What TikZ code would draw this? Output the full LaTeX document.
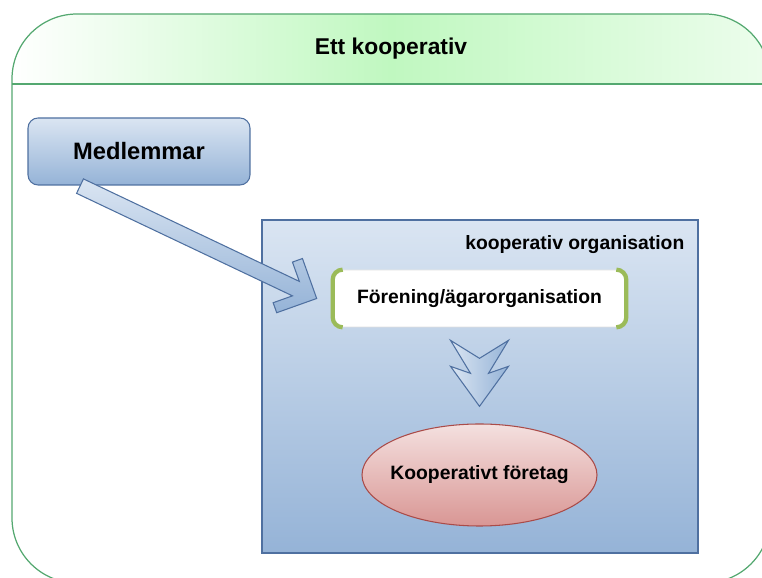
\documentclass[tikz,border=0pt]{standalone}
\usepackage{fontspec}
\setmainfont{Liberation Sans}
\usetikzlibrary{positioning, calc, shapes.geometric}
\definecolor{ramgron}   {RGB}{84, 168, 112}
\definecolor{rubrikgron}{RGB}{192, 248, 192}
\definecolor{ljusbla}   {RGB}{218, 229, 242}
\definecolor{mellanbla} {RGB}{149, 179, 215}
\definecolor{kantbla}   {RGB}{79, 112, 160}
\definecolor{olivgron}  {RGB}{155, 187, 89}
\definecolor{ljusrod}   {RGB}{244, 224, 223}
\definecolor{rod}       {RGB}{217, 150, 148}
\definecolor{kantrod}   {RGB}{170, 75, 72}
\tikzset{
  % ram och rubrik
  ram/.style={draw=ramgron, line width=0.7pt},
  titel/.style={font=\fontsize{13pt}{16pt}\selectfont\bfseries},
  % blå rutor
  ruta/.style={
    rectangle, rounded corners=0.2cm,
    minimum width=4.44cm, minimum height=1.34cm,
    top color=ljusbla, bottom color=mellanbla, draw=kantbla, line width=0.6pt,
    font=\fontsize{13.5pt}{16pt}\selectfont\bfseries
  },
  org/.style={
    rectangle, minimum width=8.72cm, minimum height=6.66cm,
    top color=ljusbla, bottom color=mellanbla, draw=kantbla, line width=0.7pt
  },
  vitruta/.style={
    rectangle, rounded corners=0.2cm,
    minimum width=5.86cm, minimum height=1.14cm,
    fill=white, draw=black!12, line width=0.4pt,
    font=\fontsize{11pt}{13pt}\selectfont\bfseries
  },
  sida/.style={draw=olivgron, line width=2.4pt},
  ellips/.style={
    top color=ljusrod, bottom color=rod, draw=kantrod, line width=0.6pt
  },
  etikett/.style={font=\fontsize{11pt}{13pt}\selectfont\bfseries},
  % blockpilar
  blockpil/.style={draw=kantbla, line width=0.6pt, line join=miter},
}

\begin{document}
\begin{tikzpicture}[x=0.02cm, y=0.02cm]
  \useasboundingbox (0,0) rectangle (762,578);
  % yttre ram med rubrikfält
  \begin{scope}
    \clip[rounded corners=1.3cm] (12,-5) rectangle (770,564);
    \shade[left color=white, right color=white!70!rubrikgron, middle color=rubrikgron]
      (12,494) rectangle (770,564);
  \end{scope}
  \draw[ram] (12,494) -- (770,494);
  \draw[ram, rounded corners=1.3cm] (12,-5) rectangle (770,564);
  \node[titel] (rubrik) at (391,529) {Ett kooperativ};

  \node[ruta] (med) at (139,426.5) {Medlemmar};
  \node[org] (org) at (480,191.5) {};
  \node[etikett, anchor=north east] (orgtext) at ($(org.north east)+(-8,-10)$) {kooperativ organisation};
  \node[vitruta] (foren) at (479.5,279.5) {Förening/ägarorganisation};
  \draw[sida] ($(foren.north west)+(10,0)$) arc[start angle=90, end angle=180, radius=0.2cm]
    -- ($(foren.south west)+(0,10)$) arc[start angle=180, end angle=270, radius=0.2cm];
  \draw[sida] ($(foren.north east)+(-10,0)$) arc[start angle=90, end angle=0, radius=0.2cm]
    -- ($(foren.south east)+(0,10)$) arc[start angle=0, end angle=-90, radius=0.2cm];
  \coordinate (mitt) at (479.5,103);
  \draw[ellips] (mitt) ellipse[x radius=117.5, y radius=51];
  \node[etikett] (foretag) at (mitt) {Kooperativt företag};

  % pil från medlemmar
  \coordinate (spets) at ($(foren.west)+(-16,0)$);
  \begin{scope}[shift={(spets)}, rotate=-25.4]
    \draw[blockpil, top color=ljusbla, bottom color=mellanbla]
      (0,0) -- (-30,30) -- (-37.5,22.5) -- (-23,8) -- (-262,8)
      -- (-262,-8) -- (-23,-8) -- (-37.5,-22.5) -- (-30,-30) -- cycle;
  \end{scope}

  % pil ned till företaget
  \coordinate (ned) at ($(foren.south)+(0,-46)$);
  \begin{scope}[shift={(ned)}]
    \draw[blockpil, left color=ljusbla, right color=mellanbla]
      (-29,33) -- (0,15) -- (29,33) -- (9,0) -- (29,7) -- (0,-33)
      -- (-29,7) -- (-9,0) -- cycle;
  \end{scope}
\end{tikzpicture}
\end{document}
